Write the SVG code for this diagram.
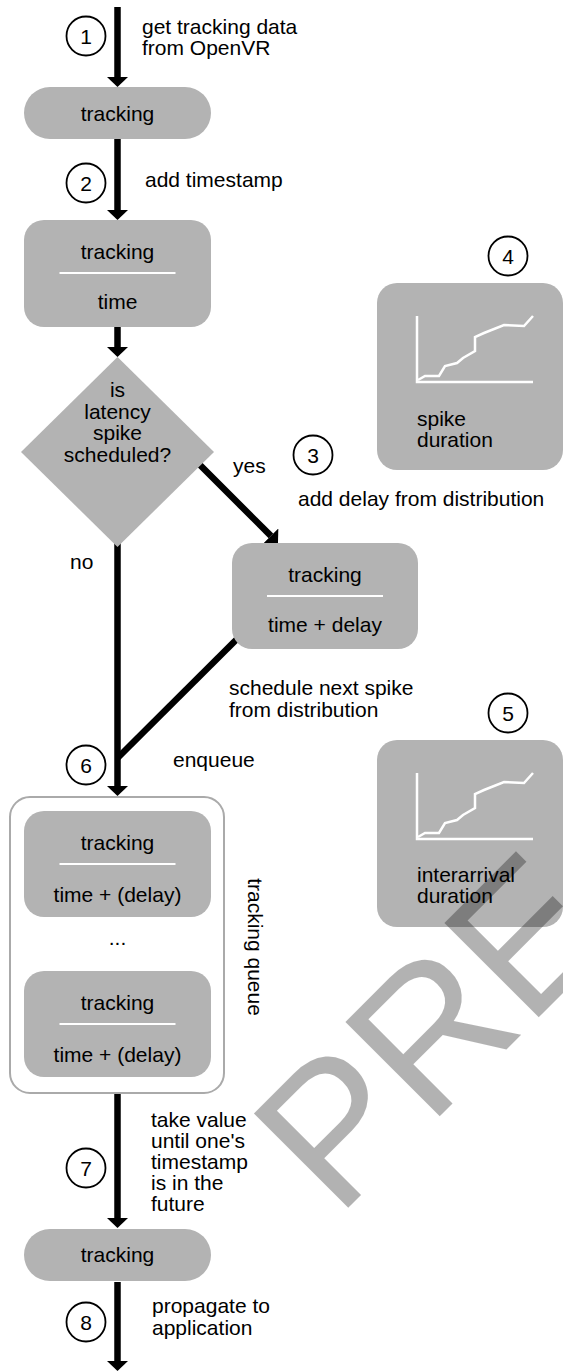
<svg xmlns="http://www.w3.org/2000/svg" width="563" height="1372" viewBox="0 0 563 1372">
<style>
text{font-family:"Liberation Sans",Arial,Helvetica,sans-serif;font-size:21px;fill:#000}
.c{text-anchor:middle}
.node{fill:#b3b3b3}
.sep{stroke:#fff;stroke-width:2}
.edge{stroke:#000;stroke-width:6.5;fill:none}
.num{fill:#fff;stroke:#000;stroke-width:1.8}
.chart{stroke:#fff;stroke-width:2.5;fill:none}
.wm{font-size:194px;fill:#000;fill-opacity:0.3}
</style>
<defs>
<marker id="ah" viewBox="0 0 10 21" refX="0" refY="10.5" markerWidth="10" markerHeight="21" markerUnits="userSpaceOnUse" orient="auto">
<path d="M0,0 L10,10.5 L0,21 z" fill="#000"/>
</marker>
</defs>

<g id="connectors">
<line class="edge" x1="117.5" y1="7" x2="117.5" y2="77" marker-end="url(#ah)"/>
<line class="edge" x1="117.5" y1="139" x2="117.5" y2="210" marker-end="url(#ah)"/>
<line class="edge" x1="117.5" y1="327" x2="117.5" y2="347" marker-end="url(#ah)"/>
<line class="edge" x1="200" y1="465" x2="270.9" y2="535.9" marker-end="url(#ah)"/>
<line class="edge" x1="117.5" y1="540" x2="117.5" y2="786" marker-end="url(#ah)"/>
<line class="edge" x1="246" y1="630" x2="117.5" y2="758"/>
<line class="edge" x1="117.5" y1="1093" x2="117.5" y2="1218" marker-end="url(#ah)"/>
<line class="edge" x1="117.5" y1="1282" x2="117.5" y2="1361" marker-end="url(#ah)"/>
</g>

<g id="n-tracking1">
<rect class="node" x="24" y="87" width="187" height="52" rx="26"/>
<text class="c" x="117.5" y="121">tracking</text>
</g>

<g id="n-tracking-time">
<rect class="node" x="24" y="220" width="187" height="107" rx="20"/>
<text class="c" x="117.5" y="259">tracking</text>
<line class="sep" x1="59.5" y1="273" x2="175.5" y2="273"/>
<text class="c" x="117.5" y="309">time</text>
</g>

<g id="n-decision">
<polygon class="node" points="117.5,357 214,452 117.5,547 21,452"/>
<text class="c" x="117.5" y="397">is</text>
<text class="c" x="117.5" y="419">latency</text>
<text class="c" x="117.5" y="440">spike</text>
<text class="c" x="117.5" y="462">scheduled?</text>
</g>

<g id="n-delay">
<rect class="node" x="232" y="543" width="186" height="106" rx="20"/>
<text class="c" x="325" y="582">tracking</text>
<line class="sep" x1="267" y1="596" x2="383" y2="596"/>
<text class="c" x="325" y="632">time + delay</text>
</g>

<g id="n-spike-dist">
<rect class="node" x="377" y="283" width="186" height="187" rx="20"/>
<g transform="translate(377,283)">
<path class="chart" d="M40,33 V99 H156"/>
<polyline class="chart" points="41,97 48,93 62,93 68,83 80,80 86,75 98,68 98,54 107,50 127,42 147,43 156,33"/>
</g>
<text x="417" y="426">spike</text>
<text x="417" y="447">duration</text>
</g>

<g id="n-interarrival-dist">
<rect class="node" x="377" y="740" width="186" height="187" rx="20"/>
<g transform="translate(377,740)">
<path class="chart" d="M40,33 V99 H156"/>
<polyline class="chart" points="41,97 48,93 62,93 68,83 80,80 86,75 98,68 98,54 107,50 127,42 147,43 156,33"/>
</g>
<text x="417" y="882">interarrival</text>
<text x="417" y="903">duration</text>
</g>

<g id="n-queue">
<rect x="10" y="797" width="214" height="296" rx="20" fill="#fff" stroke="#aaaaaa" stroke-width="2"/>
<rect class="node" x="24" y="811" width="187" height="106" rx="20"/>
<text class="c" x="117.5" y="850">tracking</text>
<line class="sep" x1="59.5" y1="864" x2="175.5" y2="864"/>
<text class="c" x="117.5" y="902">time + (delay)</text>
<text class="c" x="117.5" y="945">...</text>
<rect class="node" x="24" y="971" width="187" height="106" rx="20"/>
<text class="c" x="117.5" y="1010">tracking</text>
<line class="sep" x1="59.5" y1="1024" x2="175.5" y2="1024"/>
<text class="c" x="117.5" y="1062">time + (delay)</text>
<text class="c" transform="translate(248,947) rotate(90)">tracking queue</text>
</g>

<g id="n-tracking-out">
<rect class="node" x="24" y="1229" width="187" height="52" rx="26"/>
<text class="c" x="117.5" y="1262">tracking</text>
</g>

<g id="steps">
<circle class="num" cx="86" cy="36" r="19.5"/><text class="c" x="86" y="43.5">1</text>
<circle class="num" cx="86" cy="183" r="19.5"/><text class="c" x="86" y="190.5">2</text>
<circle class="num" cx="313" cy="455" r="19.5"/><text class="c" x="313" y="462.5">3</text>
<circle class="num" cx="508" cy="256" r="19.5"/><text class="c" x="508" y="263.5">4</text>
<circle class="num" cx="508" cy="713" r="19.5"/><text class="c" x="508" y="720.5">5</text>
<circle class="num" cx="86" cy="765" r="19.5"/><text class="c" x="86" y="772.5">6</text>
<circle class="num" cx="86" cy="1168" r="19.5"/><text class="c" x="86" y="1175.5">7</text>
<circle class="num" cx="86" cy="1322" r="19.5"/><text class="c" x="86" y="1329.5">8</text>
</g>

<g id="labels">
<text x="142" y="34">get tracking data</text>
<text x="142" y="55">from OpenVR</text>
<text x="145" y="187">add timestamp</text>
<text x="233" y="473">yes</text>
<text x="298" y="506">add delay from distribution</text>
<text x="70" y="569">no</text>
<text x="229" y="695">schedule next spike</text>
<text x="229" y="717">from distribution</text>
<text x="173" y="767">enqueue</text>
<text x="151" y="1127">take value</text>
<text x="151" y="1148">until one's</text>
<text x="151" y="1169">timestamp</text>
<text x="151" y="1190">is in the</text>
<text x="151" y="1211">future</text>
<text x="152" y="1313">propagate to</text>
<text x="152" y="1335">application</text>
</g>

<text class="wm" transform="translate(337,1219) rotate(-45)">PRE</text>
</svg>
